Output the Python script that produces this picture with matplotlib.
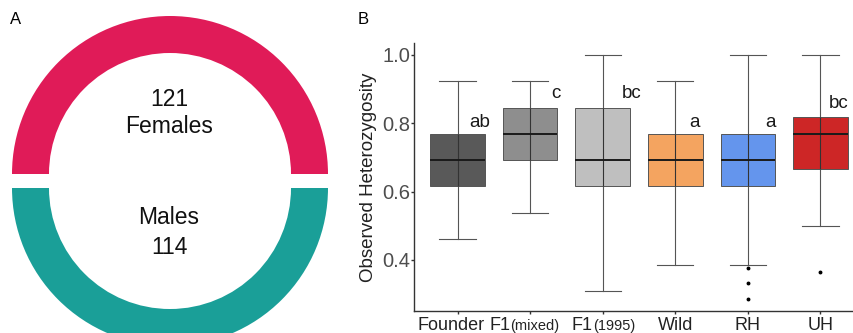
import numpy as np
import matplotlib.pyplot as plt

plt.rcParams['font.family'] = ['Liberation Sans', 'DejaVu Sans']

# panel A
sex_labels = ['Females', 'Males']
sex_counts = [121, 114]
ring_share = [1, 1]          # the ring is drawn as two equal halves
ring_colors = ['#E01B58', '#1A9F98']

# panel B
groups = ['Founder', 'F1', 'F1', 'Wild', 'RH', 'UH']
group_sub = ['', '(mixed)', '(1995)', '', '', '']
whis_lo = [0.462, 0.538, 0.308, 0.385, 0.385, 0.500]
q1 = [0.615, 0.692, 0.615, 0.615, 0.615, 0.667]
med = [0.692, 0.769, 0.692, 0.692, 0.692, 0.769]
q3 = [0.769, 0.846, 0.846, 0.769, 0.769, 0.818]
whis_hi = [0.923, 0.923, 1.000, 0.923, 1.000, 1.000]
outliers = [[], [], [], [], [0.375, 0.333, 0.286], [0.364]]
letters = ['ab', 'c', 'bc', 'a', 'a', 'bc']
letter_y = [0.790, 0.873, 0.875, 0.790, 0.790, 0.846]
letter_dx = [0.30, 0.35, 0.40, 0.26, 0.31, 0.25]
box_colors = ['#595959', '#8e8e8e', '#bfbfbf', '#f4a460', '#6495ed', '#cd2626']

W, H = 854, 333
fig = plt.figure(figsize=(W / 100, H / 100), dpi=100)

# ---- A: split ring ----
R = 158.0
ax1 = fig.add_axes([0, 0, 340 / W, 1])
ax1.pie(ring_share, colors=ring_colors, startangle=0, counterclock=True,
        radius=1, explode=[7 / R, 7 / R],
        wedgeprops=dict(width=37 / R, linewidth=0))
ax1.set_xlim(-170 / R, 170 / R)
ax1.set_ylim(-152 / R, 181 / R)
ax1.set_aspect('auto')
ax1.axis('off')

txt = dict(ha='center', va='center', fontsize=16.5, color='#111111')
fig.text(169 / W, 1 - 100 / H, str(sex_counts[0]), **txt)
fig.text(169 / W, 1 - 127 / H, sex_labels[0], **txt)
fig.text(169 / W, 1 - 218 / H, sex_labels[1], **txt)
fig.text(169 / W, 1 - 247 / H, str(sex_counts[1]), **txt)
fig.text(10 / W, 1 - 20 / H, 'A', fontsize=12, va='center')
fig.text(358 / W, 1 - 19 / H, 'B', fontsize=12, va='center')

# ---- B: boxplots ----
ax2 = fig.add_axes([414 / W, 22 / H, 450 / W, 268 / H])
pos = np.arange(1, len(groups) + 1)
stats = []
for i in range(len(groups)):
    stats.append(dict(whislo=whis_lo[i], q1=q1[i], med=med[i], q3=q3[i],
                      whishi=whis_hi[i], fliers=outliers[i]))

bp = ax2.bxp(stats, positions=pos, widths=0.75, patch_artist=True,
             showcaps=True, capwidths=0.5,
             boxprops=dict(edgecolor='#555555', linewidth=0.7),
             medianprops=dict(color='#1a1a1a', linewidth=1.4, zorder=4),
             whiskerprops=dict(color='#555555', linewidth=0.8),
             capprops=dict(color='#555555', linewidth=0.8),
             flierprops=dict(marker='o', markersize=1.8, markerfacecolor='black',
                             markeredgecolor='black', linestyle='none'))
for patch, c in zip(bp['boxes'], box_colors):
    patch.set_facecolor(c)
    patch.set_zorder(2)
# whisker line continues through the box
ax2.vlines(pos, q1, q3, color='#333333', linewidth=0.8, zorder=3)

for i in range(len(groups)):
    ax2.text(pos[i] + letter_dx[i], letter_y[i], letters[i], ha='center',
             va='baseline', fontsize=13.5, color='#1a1a1a')

ax2.set_xlim(0.4, 6.6)
ax2.set_ylim(0.25, 1.035)
ax2.set_yticks([0.4, 0.6, 0.8, 1.0])
ax2.set_yticklabels(['0.4', '0.6', '0.8', '1.0'])
ax2.tick_params(axis='y', labelsize=14.5, labelcolor='#4d4d4d', length=2,
                width=1, color='#333333', pad=0.5)
ax2.set_xticks(pos)
ax2.set_xticklabels([])
ax2.tick_params(axis='x', length=2, width=1, color='#333333')
for s in ['top', 'right']:
    ax2.spines[s].set_visible(False)
for s in ['left', 'bottom']:
    ax2.spines[s].set_color('#333333')
    ax2.spines[s].set_linewidth(1.0)
ax2.set_ylabel('Observed Heterozygosity', fontsize=13.5, color='#222222', labelpad=4)

# category labels with smaller parenthetical part, centred as a whole
split_dx = [-5, -14.4, -7.2, 0, 0, 0]
for i in range(len(groups)):
    anchor = dict(xy=(pos[i], 0), xycoords=('data', 'axes fraction'),
                  textcoords='offset points', va='baseline', color='#222222',
                  annotation_clip=False)
    if group_sub[i]:
        ax2.annotate(groups[i], xytext=(split_dx[i], -13.7), ha='right',
                     fontsize=13, **anchor)
        ax2.annotate(group_sub[i], xytext=(split_dx[i], -13.7), ha='left',
                     fontsize=10.5, **anchor)
    else:
        ax2.annotate(groups[i], xytext=(split_dx[i], -13.7), ha='center',
                     fontsize=13, **anchor)

fig.savefig('out.png', dpi=100)
